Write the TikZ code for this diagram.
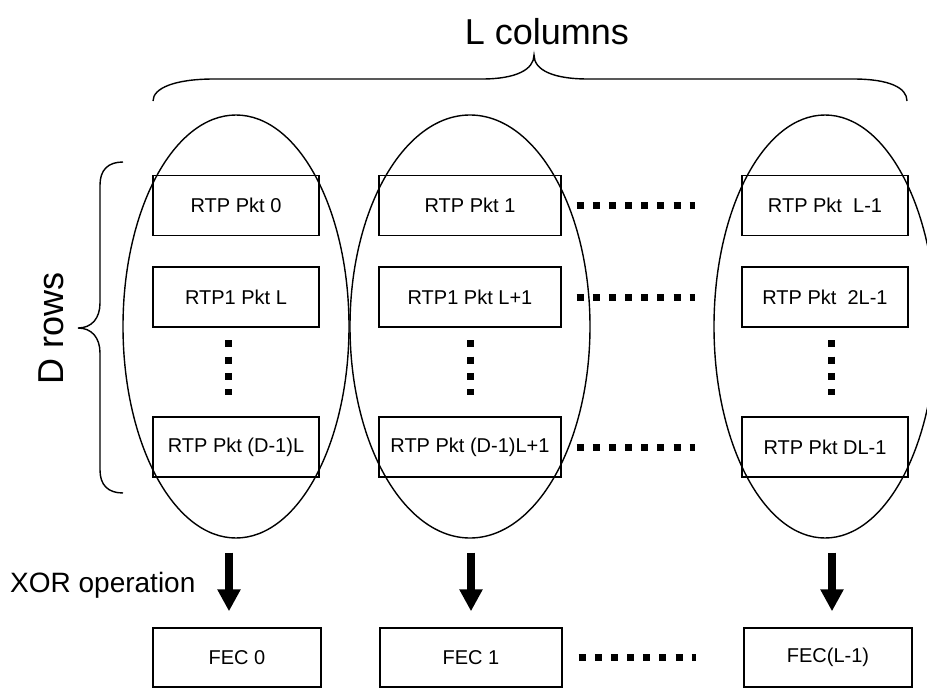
\documentclass[tikz,border=0pt]{standalone}
\usepackage{fontspec}
\setmainfont{Liberation Sans}
\usetikzlibrary{shapes.geometric,arrows.meta,calc}
\begin{document}
\begin{tikzpicture}[x=1pt,y=-1pt,
  oval/.style={ellipse, draw, line width=1.4pt, inner sep=0pt, minimum height=423pt},
  pkt/.style={rectangle, draw, line width=1.4pt, minimum height=60pt, inner sep=0pt, font=\fontsize{20}{22}\selectfont},
  fec/.style={pkt, minimum height=59pt},
  hdots/.style={line width=7pt, dash pattern=on 7pt off 9.14pt},
  vdots/.style={line width=7pt, dash pattern=on 7pt off 9.33pt},
  xorarrow/.style={line width=8pt, -{Triangle[width=22pt,length=22pt]}},
  bracestyle/.style={line width=1.4pt},
  bigtext/.style={inner sep=0pt, font=\fontsize{36}{40}\selectfont}]
\useasboundingbox (0,0) rectangle (927,688);

% column ovals
\node[oval, minimum width=226pt] (e1) at (236,326.5) {};
\node[oval, minimum width=240pt] (e2) at (470,326.5) {};
\node[oval, minimum width=222pt] (e3) at (825,326.5) {};

% packet boxes
\node[pkt, minimum width=166pt] (a1) at (236,205.5) {RTP Pkt 0};
\node[pkt, minimum width=166pt] (a2) at (236,297) {RTP1 Pkt L};
\node[pkt, minimum width=166pt] (a3) at (236,447) {RTP Pkt (D-1)L};
\node[pkt, minimum width=182pt] (b1) at (470,205.5) {RTP Pkt 1};
\node[pkt, minimum width=182pt] (b2) at (470,297) {RTP1 Pkt L+1};
\node[pkt, minimum width=182pt] (b3) at (470,447) {RTP Pkt (D-1)L+1};
\node[pkt, minimum width=166pt] (c1) at (825,205.5) {RTP Pkt~~L-1};
\node[pkt, minimum width=166pt] (c2) at (825,297) {RTP Pkt~~2L-1};
\node[pkt, minimum width=166pt] (c3) at (825,447) {RTP Pkt DL-1};

% FEC boxes
\node[fec, minimum width=168pt] (f1) at (237,657.5) {FEC 0};
\node[fec, minimum width=182pt] (f2) at (471,657.5) {FEC 1};
\node[fec, minimum width=168pt] (f3) at (828,657.5) {FEC(L-1)};

% horizontal dots
\draw[hdots] ($(b1.east)+(15,0)$) -- ($(c1.west)+(-46,0)$);
\draw[hdots] ($(b2.east)+(15,0)$) -- ($(c2.west)+(-46,0)$);
\draw[hdots] ($(b3.east)+(15,0)$) -- ($(c3.west)+(-46,0)$);
\draw[hdots] ($(f2.east)+(16,0)$) -- ($(f3.west)+(-47,0)$);

% vertical dots
\draw[vdots] ($(a2.south)+(-8,12.5)$) -- ($(a3.north)+(-8,-21.5)$);
\draw[vdots] ($(b2.south)+(0,12.5)$) -- ($(b3.north)+(0,-21.5)$);
\draw[vdots] ($(c2.south)+(6,12.5)$) -- ($(c3.north)+(6,-21.5)$);

% XOR arrows
\draw[xorarrow] ($(e1.south)+(-7,14)$) -- ($(f1.north)+(-8,-16)$);
\draw[xorarrow] ($(e2.south)+(1,14)$) -- ($(f2.north)+(0,-16)$);
\draw[xorarrow] ($(e3.south)+(7,14)$) -- ($(f3.north)+(4,-16)$);

% braces
\draw[bracestyle] (153,101) .. controls (153,88) and (175,79) .. (214,79) -- (482,79)
  .. controls (515,79) and (534,70) .. (534,55)
  .. controls (534,70) and (553,79) .. (588,79) -- (853,79)
  .. controls (890,79) and (907,88) .. (907,101);
\draw[bracestyle] (123,162) .. controls (108,162) and (100,170) .. (100,185) -- (100,303)
  .. controls (100,318) and (92,328) .. (78,328)
  .. controls (92,328) and (100,338) .. (100,353) -- (100,470)
  .. controls (100,485) and (108,493) .. (123,493);

% labels
\node[bigtext, anchor=base] (lc) at (547,44) {L columns};
\node[bigtext, rotate=90, anchor=base] (dr) at (63,328.5) {D rows};
\node[inner sep=0pt, font=\fontsize{28}{32}\selectfont, anchor=base west] (xor) at (10,592) {XOR operation};
\end{tikzpicture}
\end{document}
